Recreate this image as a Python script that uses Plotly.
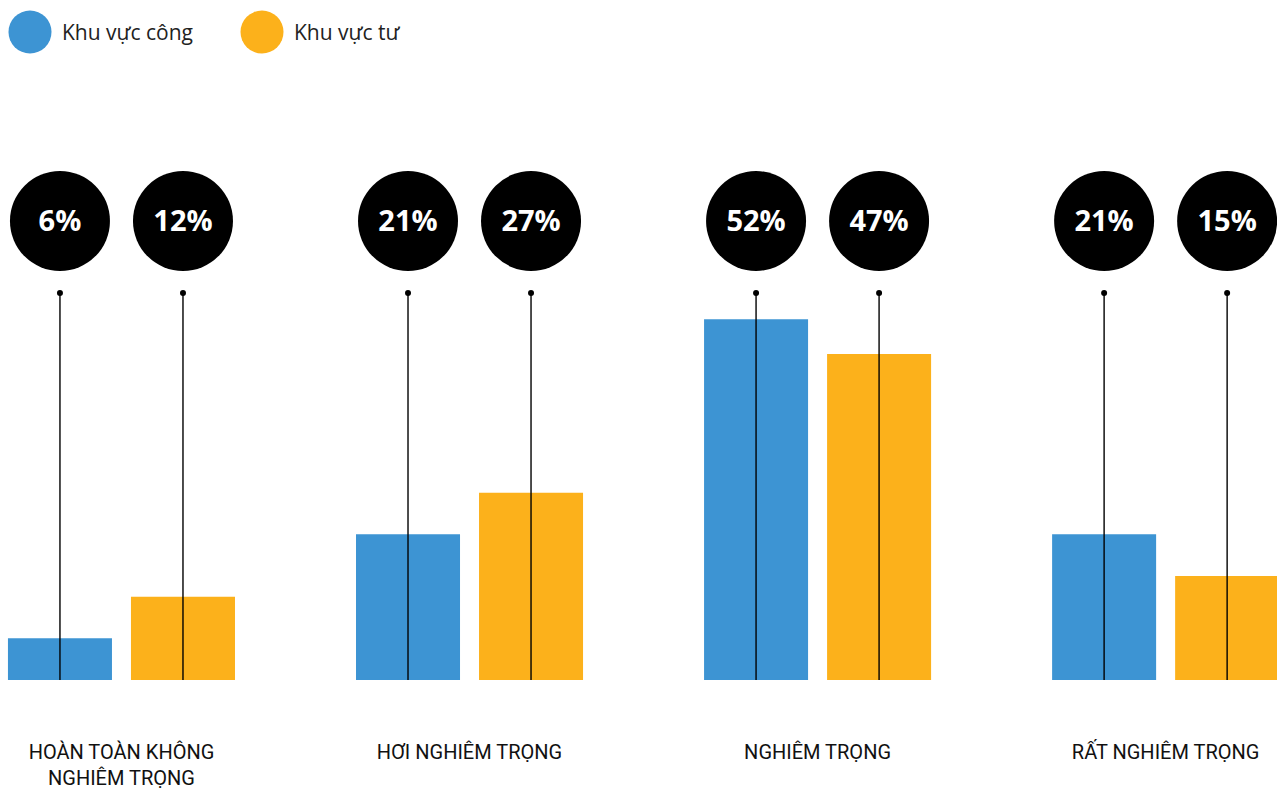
import plotly.graph_objects as go

categories = ["HOÀN TOÀN KHÔNG<br>NGHIÊM TRỌNG", "HƠI NGHIÊM TRỌNG", "NGHIÊM TRỌNG", "RẤT NGHIÊM TRỌNG"]
series_names = ["Khu vực công", "Khu vực tư"]
public_values = [6, 21, 52, 21]
private_values = [12, 27, 47, 15]
colors = ["#3D94D3", "#FCB11B"]

W, H = 1277, 799
plot_h = 680  # plot area height in px (top margin 0)

fig = go.Figure()
all_vals = [public_values, private_values]
groups = ["pub", "pri"]

for name, vals, col, g in zip(series_names, all_vals, colors, groups):
    fig.add_trace(go.Bar(
        x=categories, y=vals, name=name, marker=dict(color=col, line=dict(width=0)),
        offsetgroup=g, showlegend=False, hoverinfo="skip",
    ))

circle_y = 1 - 221 / plot_h
dot_y = 1 - 293 / plot_h

for name, vals, g in zip(series_names, all_vals, groups):
    xs, ys = [], []
    for c in categories:
        xs += [c, c, None]
        ys += [dot_y, 0, None]
    fig.add_trace(go.Scatter(
        x=xs, y=ys, mode="lines", yaxis="y2", offsetgroup=g,
        line=dict(color="black", width=1.4), showlegend=False, hoverinfo="skip",
    ))
    fig.add_trace(go.Scatter(
        x=categories, y=[dot_y] * len(categories), mode="markers", yaxis="y2",
        offsetgroup=g, marker=dict(color="black", size=6), showlegend=False,
        hoverinfo="skip",
    ))
    fig.add_trace(go.Scatter(
        x=categories, y=[circle_y] * len(categories), mode="markers",
        yaxis="y2", offsetgroup=g,
        marker=dict(color="black", size=100, line=dict(width=0)),
        showlegend=False, hoverinfo="skip", cliponaxis=False,
    ))
    fig.add_trace(go.Scatter(
        x=categories, y=[circle_y - 3 / plot_h] * len(categories), mode="text",
        yaxis="y2", offsetgroup=g,
        text=[f"{v}%" for v in vals], textposition="middle center",
        textfont=dict(family="Open Sans", size=29, color="white", weight="bold"),
        showlegend=False, hoverinfo="skip", cliponaxis=False,
    ))

legend_items = [(30, 62), (262, 294)]
for (cx, tx), name, col in zip(legend_items, series_names, colors):
    fig.add_shape(type="circle", xref="paper", yref="paper",
                  xsizemode="pixel", ysizemode="pixel",
                  xanchor=cx / W, yanchor=1 - 32 / plot_h,
                  x0=-21.5, x1=21.5, y0=-21.5, y1=21.5,
                  fillcolor=col, line=dict(width=0))
    fig.add_annotation(x=tx / W, y=1 - 32 / plot_h, xref="paper", yref="paper",
                       text=name, showarrow=False, xanchor="left", yanchor="middle",
                       xshift=-2,
                       font=dict(family="Open Sans", size=21, color="#222222"))

fig.update_layout(
    width=W, height=H,
    margin=dict(l=0, r=0, t=0, b=H - plot_h),
    paper_bgcolor="white", plot_bgcolor="white",
    barmode="group", bargap=0.2931, bargroupgap=0.1545,
    scattermode="group", scattergap=0.2931,
    showlegend=False,
    xaxis=dict(type="category", range=[-0.349, 3.320], showgrid=False,
               zeroline=False, showline=False, ticks="",
               ticklabelstandoff=58,
               tickfont=dict(family="Roboto, sans-serif", size=20, color="#111111")),
    yaxis=dict(range=[0, 98], visible=False, showgrid=False, zeroline=False),
    yaxis2=dict(range=[0, 1], overlaying="y", visible=False, showgrid=False,
                zeroline=False),
)

fig.write_html(
    "out.html",
    config={"displayModeBar": False},
    post_script="document.body.style.margin='0';document.body.style.overflow='hidden';",
)
